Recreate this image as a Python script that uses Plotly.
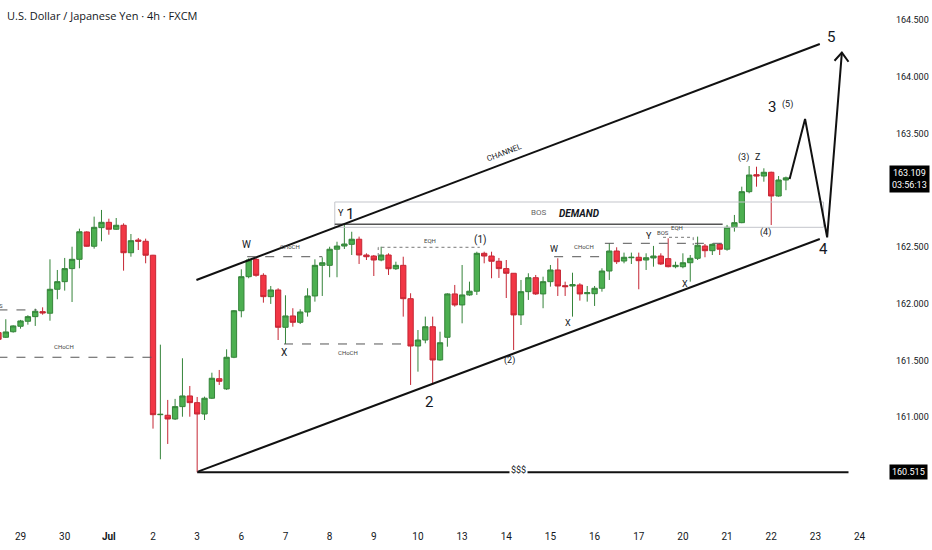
import plotly.graph_objects as go

# 4h candles, index 0 = first bar of Jun 29 (6 bars per trading day)
bar_index = list(range(-3, 105))

open_ = [161.745, 161.704, 161.753, 161.801, 161.845, 161.886, 161.930, 161.916, 162.127, 162.194,
         162.309, 162.391, 162.632, 162.506, 162.670, 162.717, 162.656, 162.691, 162.449, 162.561,
         162.550, 162.427, 161.022, 161.017, 160.984, 161.093, 161.187, 161.128, 161.028, 161.167,
         161.339, 161.249, 161.528, 161.938, 162.238, 162.391, 162.250, 162.062, 162.121, 161.792,
         161.892, 161.836, 161.927, 162.068, 162.338, 162.338, 162.480, 162.508, 162.523, 162.568,
         162.429, 162.420, 162.385, 162.429, 162.308, 162.338, 162.044, 161.627, 161.680, 161.797,
         161.504, 161.704, 162.086, 161.989, 162.077, 162.110, 162.444, 162.420, 162.374, 162.309,
         162.268, 161.901, 162.106, 162.229, 162.086, 162.194, 162.297, 162.159, 162.156, 162.165,
         162.088, 162.088, 162.136, 162.288, 162.464, 162.376, 162.405, 162.409, 162.385, 162.403,
         162.420, 162.397, 162.326, 162.326, 162.361, 162.400, 162.508, 162.467, 162.523, 162.480,
         162.673, 162.714, 162.987, 163.137, 163.125, 163.158, 162.949, 163.090]
high = [161.768, 161.863, 161.810, 161.857, 161.898, 161.956, 161.968, 162.391, 162.297, 162.403,
        162.502, 162.661, 162.638, 162.767, 162.826, 162.749, 162.755, 162.708, 162.614, 162.579,
        162.573, 162.430, 161.639, 161.152, 161.161, 161.519, 161.275, 161.178, 161.181, 161.392,
        161.416, 161.598, 161.944, 162.303, 162.400, 162.409, 162.268, 162.156, 162.136, 162.074,
        161.960, 161.951, 162.136, 162.391, 162.409, 162.502, 162.546, 162.694, 162.634, 162.591,
        162.444, 162.429, 162.502, 162.444, 162.370, 162.414, 162.092, 161.768, 161.886, 161.886,
        161.753, 162.092, 162.165, 162.341, 162.194, 162.458, 162.458, 162.458, 162.403, 162.385,
        162.270, 162.209, 162.268, 162.253, 162.238, 162.341, 162.400, 162.194, 162.273, 162.180,
        162.156, 162.156, 162.312, 162.532, 162.497, 162.450, 162.450, 162.450, 162.444, 162.509,
        162.444, 162.576, 162.370, 162.444, 162.429, 162.591, 162.526, 162.532, 162.532, 162.694,
        162.782, 163.031, 163.213, 163.207, 163.193, 163.163, 163.125, 163.120]
low = [161.663, 161.698, 161.745, 161.780, 161.815, 161.804, 161.903, 161.850, 162.039, 162.115,
       162.015, 162.312, 162.502, 162.485, 162.550, 162.608, 162.650, 162.291, 162.414, 162.473,
       162.356, 160.899, 160.629, 160.764, 160.975, 161.004, 161.004, 160.515, 160.975, 161.160,
       161.284, 161.240, 161.520, 161.880, 162.224, 162.238, 162.009, 161.998, 161.680, 161.645,
       161.797, 161.821, 161.886, 162.018, 162.068, 162.233, 162.233, 162.482, 162.429, 162.350,
       162.385, 162.244, 162.374, 162.253, 162.297, 161.886, 161.284, 161.401, 161.651, 161.284,
       161.498, 161.621, 161.974, 161.827, 162.070, 162.077, 162.356, 162.224, 162.227, 162.050,
       161.592, 161.812, 162.033, 162.077, 161.960, 162.150, 162.068, 162.068, 161.886, 162.027,
       162.018, 161.980, 162.106, 162.209, 162.350, 162.356, 162.350, 162.127, 162.297, 162.326,
       162.341, 162.320, 162.312, 162.312, 162.194, 162.385, 162.409, 162.429, 162.429, 162.467,
       162.635, 162.709, 162.973, 163.031, 163.075, 162.693, 162.943, 163.000]
close = [161.686, 161.751, 161.804, 161.848, 161.886, 161.933, 161.918, 162.127, 162.194, 162.309,
         162.391, 162.634, 162.506, 162.673, 162.717, 162.656, 162.691, 162.449, 162.555, 162.550,
         162.427, 161.022, 161.025, 160.984, 161.093, 161.187, 161.128, 161.028, 161.167, 161.343,
         161.316, 161.528, 161.938, 162.238, 162.385, 162.250, 162.062, 162.121, 161.792, 161.892,
         161.836, 161.927, 162.068, 162.338, 162.361, 162.480, 162.508, 162.526, 162.568, 162.429,
         162.414, 162.385, 162.429, 162.308, 162.338, 162.044, 161.627, 161.680, 161.797, 161.504,
         161.656, 162.086, 161.989, 162.077, 162.110, 162.444, 162.420, 162.374, 162.309, 162.268,
         161.901, 162.106, 162.229, 162.086, 162.194, 162.297, 162.156, 162.150, 162.168, 162.086,
         162.097, 162.136, 162.288, 162.464, 162.370, 162.409, 162.409, 162.379, 162.405, 162.420,
         162.350, 162.326, 162.338, 162.361, 162.400, 162.515, 162.467, 162.523, 162.480, 162.673,
         162.714, 162.987, 163.134, 163.125, 163.158, 162.949, 163.090, 163.109]

# date labels (first bar of each day)
day_labels = ["29", "30", "<b>Jul</b>", "2", "3", "6", "7", "8", "9", "10",
              "13", "14", "15", "16", "17", "20", "21", "22", "23", "24"]
day_ticks = [i * 6 for i in range(len(day_labels))]

price_ticks = [161.0, 161.5, 162.0, 162.5, 163.5, 164.0, 164.5]
last_price = 163.109
countdown = "03:56:13"
low_price = 160.515

# drawings: (bar index, price)
channel_upper = [(23.9, 162.209), (108.6, 164.288)]
channel_lower = [(24.1, 160.52), (108.6, 162.57)]
liquidity_line = [(24.0, 160.515), (112.5, 160.515)]
projection = [(104.5, 163.099), (106.6, 163.628), (109.6, 162.585), (111.6, 164.212)]
arrow_head = [(110.6, 164.141), (111.6, 164.212), (112.5, 164.132)]
demand_zone = (42.7, 109.1, 162.673, 162.896)
bos_line = [(42.7, 162.70), (95.4, 162.70)]

dashed_lines = [
    (-3.0, 2.2, 161.945),
    (-3.0, 17.9, 161.528),
    (30.8, 41.0, 162.414),
    (35.8, 52.0, 161.645),
    (72.5, 79.4, 162.414),
    (79.4, 95.3, 162.532),
]
dotted_lines = [
    [(48.6, 162.42), (48.6, 162.497), (62.4, 162.497)],
    [(87.3, 162.585), (91.4, 162.585), (91.4, 162.517)],
]

# (text, bar index, price, size)
labels = [
    ("W", 30.7, 162.526, 10), ("X", 35.8, 161.566, 10), ("Y", 43.6, 162.802, 9),
    ("1", 44.7, 162.79, 15), ("(1)", 62.5, 162.561, 10), ("2", 55.5, 161.137, 15),
    ("(2)", 66.5, 161.498, 9), ("W", 72.5, 162.48, 9), ("X", 74.4, 161.833, 9),
    ("Y", 85.4, 162.599, 9), ("X", 90.3, 162.174, 9), ("(3)", 98.3, 163.29, 9),
    ("Z", 100.2, 163.295, 9), ("(4)", 101.2, 162.626, 9), ("3", 102.1, 163.731, 15),
    ("(5)", 104.2, 163.751, 9), ("5", 110.1, 164.353, 15), ("4", 109.1, 162.48, 15),
]
small_labels = [
    ("CHoCH", 36.6, 162.502), ("CHoCH", 44.5, 161.569), ("EQH", 55.6, 162.561),
    ("CHoCH", 76.5, 162.502), ("BOS", 87.3, 162.629), ("EQH", 89.2, 162.673),
    ("CHoCH", 5.9, 161.625), ("S", -2.6, 161.985),
]

green, green_edge = "#4caf50", "#35843a"
red, red_edge = "#f23645", "#c52634"

fig = go.Figure()
fig.add_trace(go.Candlestick(
    x=bar_index, open=open_, high=high, low=low, close=close,
    increasing=dict(fillcolor=green, line=dict(color=green_edge, width=1)),
    decreasing=dict(fillcolor=red, line=dict(color=red_edge, width=1)),
    whiskerwidth=0, showlegend=False, hoverinfo="skip",
))


def seg(pts, color="#111111", width=2, dash="solid"):
    path = "M " + " L ".join(f"{x},{y}" for x, y in pts)
    fig.add_shape(type="path", path=path, xref="x", yref="y",
                  line=dict(color=color, width=width, dash=dash))


x0, x1, y0, y1 = demand_zone
fig.add_shape(type="rect", x0=x0, x1=x1, y0=y0, y1=y1, xref="x", yref="y",
              line=dict(color="#c3c5cb", width=1), fillcolor="rgba(0,0,0,0)")
seg(bos_line, color="#555555", width=1.5)
seg(channel_upper)
seg(channel_lower)
seg(liquidity_line)
seg(projection)
seg(arrow_head)
for a, b, y in dashed_lines:
    seg([(a, y), (b, y)], color="#555555", width=1, dash="dash")
for pts in dotted_lines:
    seg(pts, color="#777777", width=1, dash="dot")

for text, x, y, size in labels:
    fig.add_annotation(x=x, y=y, text=text, showarrow=False,
                       font=dict(size=size, color="#131722", family="Roboto"))
for text, x, y in small_labels:
    fig.add_annotation(x=x, y=y, text=text, showarrow=False,
                       font=dict(size=6, color="#444444", family="Roboto"))

fig.add_annotation(x=70.4, y=162.802, text="BOS", showarrow=False,
                   font=dict(size=8, color="#666666", family="Roboto"))
fig.add_annotation(x=75.9, y=162.797, text="<b><i>DEMAND</i></b>", showarrow=False,
                   font=dict(size=10, color="#131722", family="Roboto"))
fig.add_annotation(x=65.8, y=163.33, text="CHANNEL", showarrow=False, textangle=-20.8,
                   font=dict(size=8, color="#131722", family="Roboto"))
fig.add_annotation(x=67.7, y=160.535, text="$$$", showarrow=False, bgcolor="white",
                   font=dict(size=9, color="#131722", family="Roboto"))

# title
fig.add_annotation(xref="paper", yref="paper", x=0, y=1, xshift=5, yshift=-6,
                   xanchor="left", yanchor="top", showarrow=False,
                   text="U.S. Dollar / Japanese Yen · 4h · FXCM",
                   font=dict(size=11, color="#131722", family="Open Sans"))

# price tags on the scale
fig.add_annotation(xref="paper", yref="y", x=1, y=last_price - 0.01, xanchor="left", xshift=21,
                   text=f"{last_price:.3f}<br>{countdown}", showarrow=False,
                   bgcolor="#000000", borderpad=2,
                   font=dict(size=9, color="white", family="Roboto"))
fig.add_annotation(xref="paper", yref="y", x=1, y=low_price, xanchor="left", xshift=21,
                   text=f"{low_price:.3f}", showarrow=False,
                   bgcolor="#000000", borderpad=2,
                   font=dict(size=9, color="white", family="Roboto"))

fig.update_layout(
    width=932, height=550,
    margin=dict(l=0, r=64, t=0, b=35),
    paper_bgcolor="white", plot_bgcolor="white",
    boxgap=0.15, boxgroupgap=0.15,
    xaxis=dict(range=[-2.79, 115.15], tickvals=day_ticks, ticktext=day_labels,
               showgrid=False, zeroline=False, showline=False, ticks="",
               rangeslider=dict(visible=False), ticklabelstandoff=14,
               tickfont=dict(size=10, color="#131722", family="Roboto")),
    yaxis=dict(range=[160.138, 164.676], side="right", tickvals=price_ticks,
               ticktext=[f"{p:.3f}" for p in price_ticks],
               showgrid=False, zeroline=False, showline=False, ticks="",
               ticklabelstandoff=27,
               tickfont=dict(size=9, color="#131722", family="Roboto")),
)

fig.write_html("out.html", config={"displayModeBar": False},
               post_script="document.body.style.margin='0';")
